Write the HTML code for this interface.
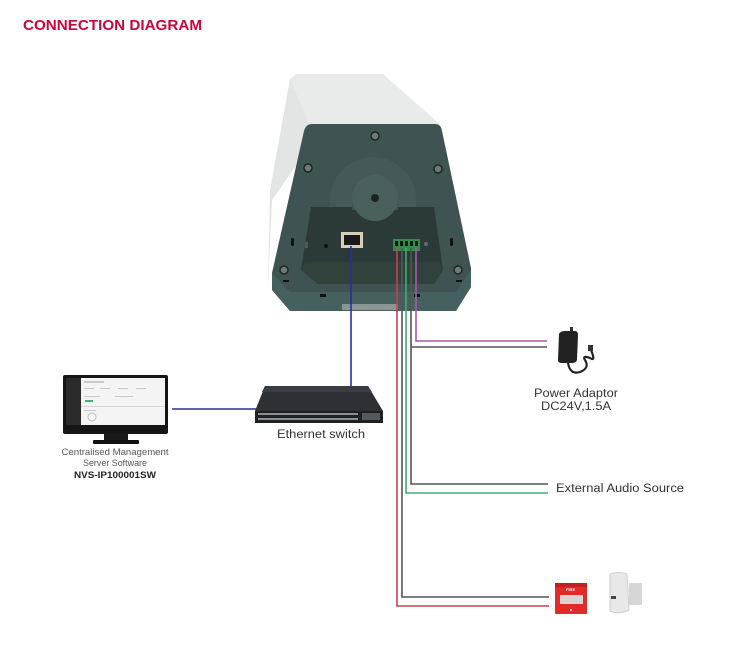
<!DOCTYPE html>
<html><head><meta charset="utf-8"><style>
html,body{margin:0;padding:0;background:#fff;}
svg{display:block;}
text{font-family:"Liberation Sans",sans-serif;}
</style></head><body>
<svg width="744" height="654" viewBox="0 0 744 654" xmlns="http://www.w3.org/2000/svg">
<rect width="744" height="654" fill="#fff"/>
<!-- Title -->
<text x="23" y="30" font-size="15" font-weight="bold" fill="#c8063c" textLength="179" lengthAdjust="spacingAndGlyphs">CONNECTION DIAGRAM</text>

<!-- Camera housing -->
<polygon points="290,79 296,74 383,74 442,126 310,126 272,200 268,285 270,200" fill="#e9eaea"/>
<polygon points="290,79 310,126 300,160 272,200 268,285 270,190" fill="#e3e4e4"/>
<!-- Panel -->
<path d="M312,124 L435,124 Q441,124 442,131 L471,268 L471,287 L456,311 L290,311 L272,290 L272,273 L304,131 Q306,124 312,124 Z" fill="#3f5352"/>
<path d="M272,273 L290,292 L456,292 L471,270 L471,287 L456,311 L290,311 L272,290 Z" fill="#45605e"/>
<!-- arch boss -->
<path d="M330,208 L330,200 A43,43 0 0 1 416,200 L416,208 Z" fill="#445958"/>
<!-- recess -->
<path d="M311,207 L434,207 L443,270 L434,284 L318,284 L301,270 Z" fill="#2b3938"/>
<path d="M305,262 L440,262 L443,270 L434,284 L318,284 L301,270 Z" fill="#34453f" opacity="0.7"/>
<!-- cylinder -->
<rect x="352" y="198" width="46" height="12" fill="#3f5352"/>
<circle cx="375" cy="198" r="23" fill="#4a605f"/>
<circle cx="375" cy="198" r="4" fill="#1c2423"/>
<!-- screws -->
<g fill="#6d7a78" stroke="#1e2726" stroke-width="1.5">
<circle cx="375" cy="136" r="4"/><circle cx="308" cy="168" r="4"/><circle cx="438" cy="169" r="4"/>
<circle cx="284" cy="270" r="4"/><circle cx="458" cy="270" r="4"/>
</g>
<!-- slots -->
<g fill="#111">
<rect x="291" y="238" width="3" height="8" rx="1.5"/><rect x="450" y="238" width="3" height="8" rx="1.5"/>
<rect x="320" y="294" width="6" height="3"/><rect x="414" y="294" width="6" height="3"/>
<rect x="283" y="280" width="6" height="2"/><rect x="456" y="280" width="6" height="2"/>
</g>
<rect x="342" y="304" width="56" height="6" fill="#8a9594"/>
<circle cx="326" cy="246" r="2" fill="#111"/><rect x="305" y="242" width="3" height="6" fill="#555"/>
<!-- RJ45 -->
<rect x="341" y="232" width="22" height="16" fill="#d8cfb8"/>
<rect x="344" y="235" width="16" height="10" fill="#1a1a1a"/>
<!-- terminal block -->
<rect x="393" y="239" width="27" height="12" fill="#2f8f4a"/>
<g fill="#111"><rect x="395" y="241" width="3" height="5"/><rect x="400" y="241" width="3" height="5"/><rect x="405" y="241" width="3" height="5"/><rect x="410" y="241" width="3" height="5"/><rect x="415" y="241" width="3" height="5"/></g>
<circle cx="426" cy="244" r="2" fill="#667"/>

<!-- Wires -->
<g fill="none" stroke-width="1.6">
<polyline points="397,248 397,606 549,606" stroke="#c8404e"/>
<polyline points="402,248 402,597 549,597" stroke="#555"/>
<polyline points="406,248 406,493 548,493" stroke="#3fb070"/>
<polyline points="411,248 411,484 548,484" stroke="#555"/>
<polyline points="411,347 547,347" stroke="#555"/>
<polyline points="416,248 416,341 547,341" stroke="#a85aa8"/>
<polyline points="351,246 351,389" stroke="#2a2f9c"/>
<polyline points="172,409 256,409" stroke="#2a2f9c"/>
</g>

<!-- Switch -->
<polygon points="265,386 368,386 383,411 255,411" fill="#2d3035"/>
<polygon points="265,386 368,386 372,392 262,392" fill="#3a3d43"/>
<rect x="255" y="411" width="128" height="12" fill="#1e2024"/>
<g fill="#8a8f96">
<rect x="258" y="413" width="100" height="2"/><rect x="258" y="418" width="100" height="2"/>
</g>
<rect x="362" y="413" width="18" height="7" fill="#555a60"/>

<!-- Monitor -->
<rect x="63" y="375" width="105" height="59" rx="2" fill="#151515"/>
<rect x="66" y="378" width="99" height="47" fill="#f4f4f4"/>
<rect x="66" y="378" width="15" height="47" fill="#2a2a2a"/>
<g fill="#c9c9c9">
<rect x="84" y="381" width="20" height="2"/><rect x="84" y="388" width="10" height="1"/><rect x="100" y="388" width="10" height="1"/><rect x="118" y="388" width="10" height="1"/><rect x="136" y="388" width="10" height="1"/>
<rect x="84" y="396" width="16" height="1"/><rect x="115" y="396" width="18" height="1"/><rect x="84" y="410" width="12" height="1"/>
<rect x="81" y="406" width="84" height="0.7"/>
</g>
<rect x="85" y="400" width="8" height="2" fill="#4caf7a"/>
<circle cx="92" cy="417" r="4" fill="none" stroke="#bbb" stroke-width="1"/>
<rect x="104" y="434" width="24" height="7" fill="#1a1a1a"/>
<rect x="93" y="440" width="46" height="4" rx="1" fill="#111"/>

<!-- Power adaptor -->
<rect x="570" y="327" width="3" height="6" fill="#333"/>
<path d="M559,334 Q560,331 565,331 L575,331 Q578,331 578,335 L577,360 Q576,363 572,363 L562,363 Q558,363 558,360 Z" fill="#222"/>
<path d="M568,363 Q570,375 580,372 Q590,368 585,360 Q582,355 590,358 Q596,362 591,350" fill="none" stroke="#222" stroke-width="2.2"/>
<rect x="588" y="345" width="5" height="6" fill="#333"/>

<!-- Fire call point -->
<rect x="555" y="583" width="32" height="31" rx="1" fill="#e02b2b"/>
<rect x="555" y="583" width="32" height="4" fill="#c41e1e"/>
<text x="566" y="591" font-size="4" fill="#fff" font-weight="bold">FIRE</text>
<rect x="560" y="595" width="23" height="9" fill="#d9d3d3"/>
<circle cx="571" cy="610" r="1" fill="#fff"/>

<!-- PIR -->
<rect x="629" y="583" width="13" height="22" fill="#d6d6d6"/>
<path d="M610,574 Q618,571 627,574 L629,610 Q619,615 610,611 Z" fill="#e8e8e8" stroke="#cfcfcf" stroke-width="1"/>
<rect x="611" y="596" width="5" height="3" fill="#444"/>

<!-- Labels -->
<text x="576" y="397" font-size="11.5" fill="#333" text-anchor="middle" textLength="84" lengthAdjust="spacingAndGlyphs">Power Adaptor</text>
<text x="576" y="410" font-size="11.5" fill="#333" text-anchor="middle" textLength="70" lengthAdjust="spacingAndGlyphs">DC24V,1.5A</text>
<text x="277" y="438" font-size="11.5" fill="#333" textLength="88" lengthAdjust="spacingAndGlyphs">Ethernet switch</text>
<text x="556" y="492" font-size="11.5" fill="#333" textLength="128" lengthAdjust="spacingAndGlyphs">External Audio Source</text>
<text x="115" y="455" font-size="9.5" fill="#555" text-anchor="middle" textLength="107" lengthAdjust="spacingAndGlyphs">Centralised Management</text>
<text x="115" y="466" font-size="9.5" fill="#555" text-anchor="middle" textLength="64" lengthAdjust="spacingAndGlyphs">Server Software</text>
<text x="115" y="478" font-size="9.5" fill="#222" font-weight="bold" text-anchor="middle" textLength="82" lengthAdjust="spacingAndGlyphs">NVS-IP100001SW</text>
</svg>
</body></html>
